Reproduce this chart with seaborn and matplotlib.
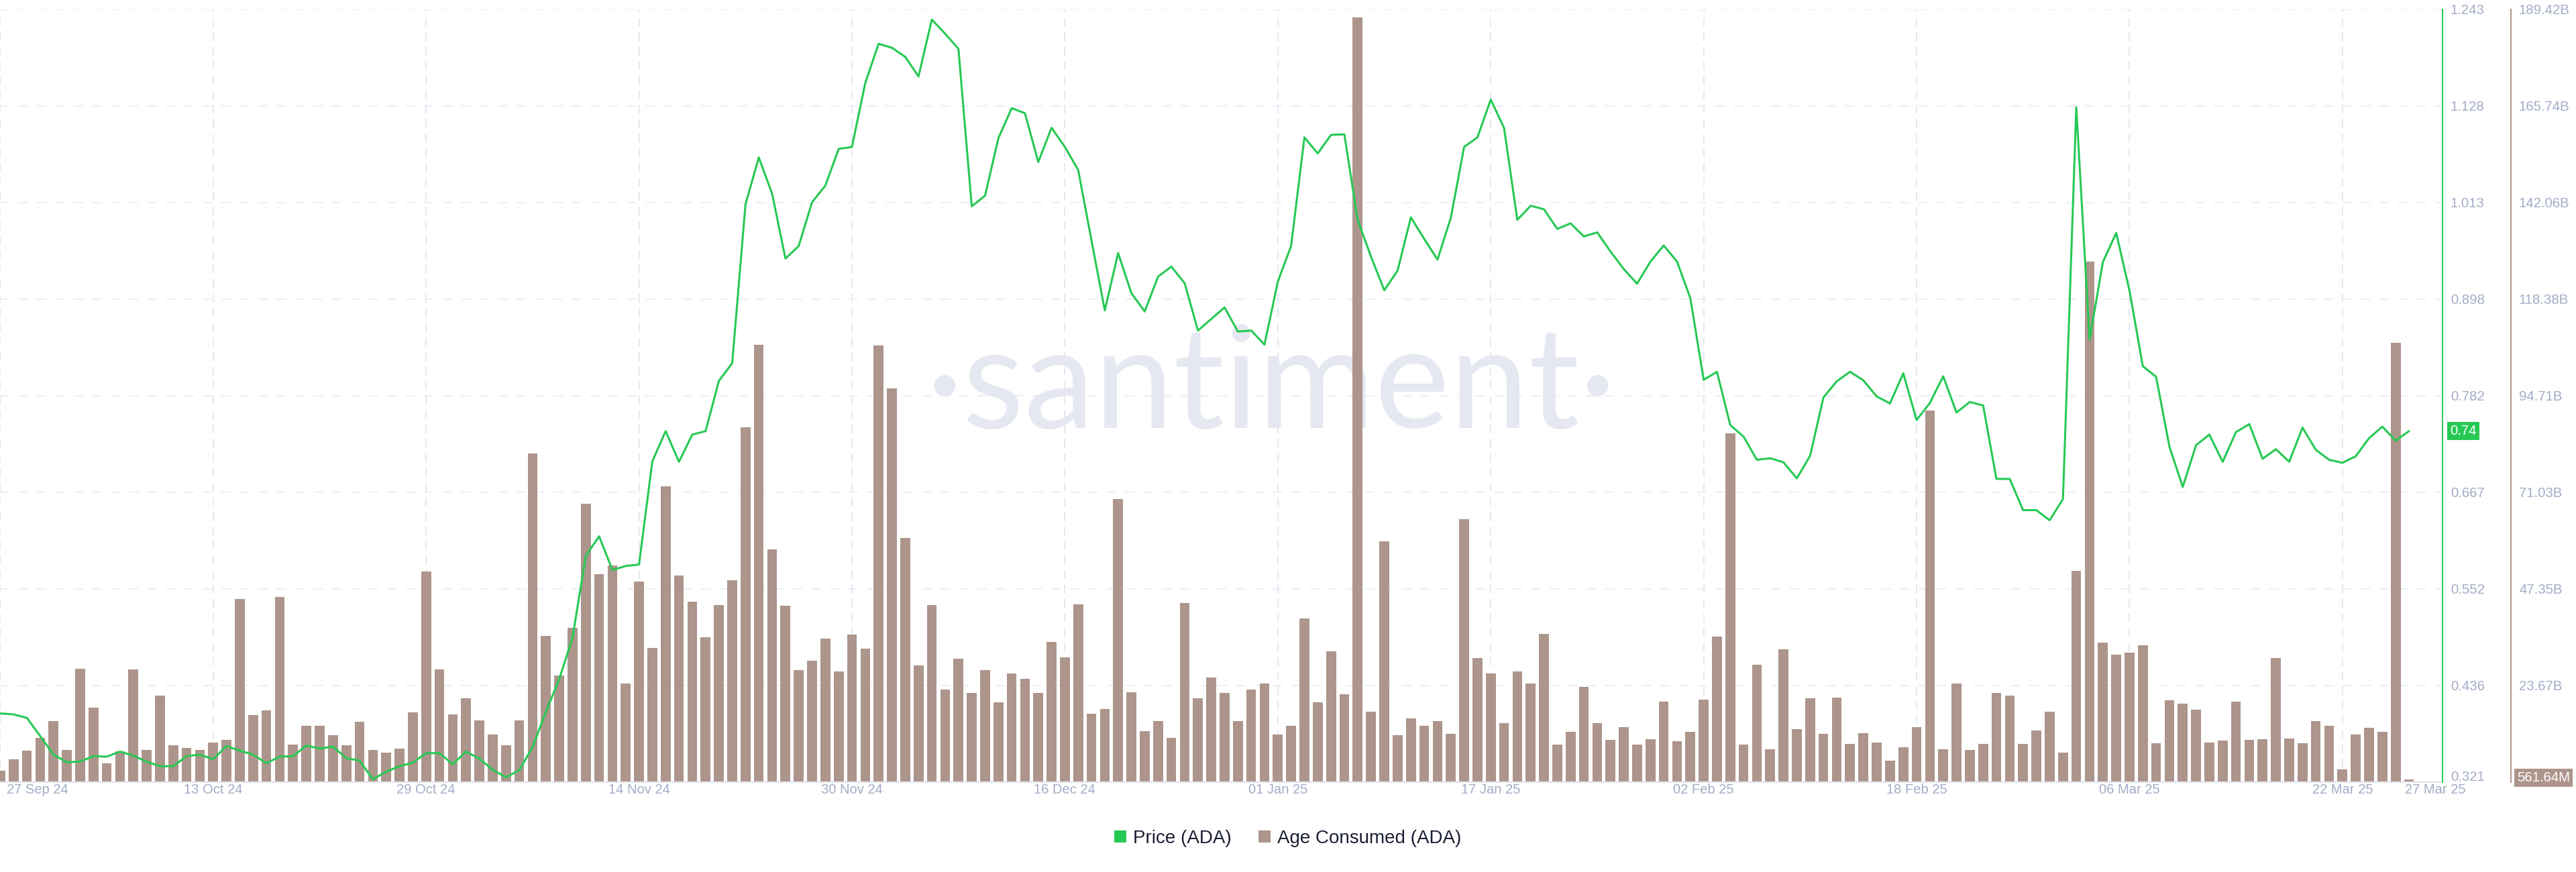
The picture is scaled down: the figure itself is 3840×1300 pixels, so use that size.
import numpy as np
import pandas as pd
import matplotlib
matplotlib.use("Agg")
import matplotlib.pyplot as plt
import matplotlib.transforms as mtransforms
from matplotlib.patches import Patch
import seaborn as sns

# ---------------- data ----------------
start_date = "2024-09-27"

age_consumed_b = [
    2.71, 5.43, 7.65, 10.85, 14.92, 7.89, 27.75, 18.25, 4.44, 7.52,
    27.62, 7.89, 21.21, 9.00, 8.26, 7.89, 9.62, 10.24, 44.77, 16.40,
    17.51, 45.38, 9.13, 13.81, 13.69, 11.35, 9.00, 14.68, 7.89, 7.15,
    8.14, 17.02, 51.55, 27.62, 16.52, 20.47, 15.05, 11.59, 9.00, 15.05,
    80.41, 35.76, 26.02, 37.74, 68.20, 50.81, 53.03, 24.05, 49.08, 32.80,
    72.51, 50.56, 44.15, 35.39, 43.29, 49.45, 86.82, 107.17, 56.97, 43.16,
    27.38, 29.72, 35.15, 27.01, 36.01, 32.68, 107.04, 96.44, 59.81, 28.61,
    43.29, 22.69, 30.21, 21.83, 27.38, 19.48, 26.51, 25.16, 21.83, 34.28,
    30.46, 43.53, 16.77, 17.88, 69.31, 21.95, 12.46, 14.80, 10.73, 43.90,
    20.47, 25.53, 21.83, 14.92, 22.69, 24.17, 11.59, 13.69, 40.08, 19.48,
    31.94, 21.46, 187.32, 17.14, 58.95, 11.47, 15.54, 13.81, 14.80, 11.72,
    64.37, 30.34, 26.51, 14.43, 27.13, 24.17, 36.26, 9.13, 12.21, 23.31,
    14.31, 10.24, 13.32, 9.13, 10.36, 19.73, 9.87, 12.33, 20.10, 35.64,
    85.46, 9.13, 28.73, 8.02, 32.43, 12.83, 20.47, 11.72, 20.59, 9.25,
    11.84, 9.62, 5.18, 8.39, 13.44, 91.01, 8.02, 24.05, 7.89, 9.37,
    21.83, 21.21, 9.25, 12.58, 17.26, 7.15, 51.67, 127.51, 34.04, 31.08,
    31.69, 33.42, 9.50, 19.98, 19.11, 17.64, 9.62, 10.11, 19.61, 10.24,
    10.36, 30.34, 10.61, 9.50, 14.80, 13.69, 2.96, 11.59, 13.20, 12.33,
    107.54, 0.56164,
]

price_ada = [
    0.4026, 0.4014, 0.3972, 0.3756, 0.3534, 0.3444, 0.3450, 0.3516, 0.3510, 0.3570,
    0.3522, 0.3450, 0.3396, 0.3396, 0.3516, 0.3534, 0.3480, 0.3636, 0.3582, 0.3534,
    0.3432, 0.3510, 0.3516, 0.3642, 0.3606, 0.3630, 0.3492, 0.3462, 0.3240, 0.3330,
    0.3396, 0.3438, 0.3552, 0.3552, 0.3420, 0.3570, 0.3486, 0.3354, 0.3264, 0.3348,
    0.3624, 0.4044, 0.4435, 0.4927, 0.5905, 0.6139, 0.5737, 0.5785, 0.5803, 0.7034,
    0.7394, 0.7028, 0.7352, 0.7394, 0.7994, 0.8204, 1.0101, 1.0659, 1.0227, 0.9453,
    0.9603, 1.0125, 1.0323, 1.0761, 1.0785, 1.1548, 1.2016, 1.1968, 1.1860, 1.1626,
    1.2304, 1.2136, 1.1956, 1.0077, 1.0203, 1.0887, 1.1247, 1.1187, 1.0605, 1.1013,
    1.0785, 1.0509, 0.9669, 0.8834, 0.9519, 0.9039, 0.8822, 0.9237, 0.9357, 0.9159,
    0.8594, 0.8732, 0.8870, 0.8582, 0.8594, 0.8426, 0.9177, 0.9603, 1.0899, 1.0707,
    1.0929, 1.0935, 0.9915, 0.9477, 0.9075, 0.9309, 0.9945, 0.9687, 0.9441, 0.9939,
    1.0785, 1.0899, 1.1349, 1.1013, 0.9915, 1.0083, 1.0041, 0.9807, 0.9873, 0.9717,
    0.9765, 0.9537, 0.9327, 0.9153, 0.9417, 0.9609, 0.9417, 0.8979, 0.8006, 0.8102,
    0.7466, 0.7328, 0.7052, 0.7070, 0.7022, 0.6830, 0.7100, 0.7796, 0.7988, 0.8102,
    0.8000, 0.7808, 0.7724, 0.8084, 0.7526, 0.7730, 0.8048, 0.7616, 0.7742, 0.7700,
    0.6824, 0.6824, 0.6451, 0.6451, 0.6331, 0.6583, 1.1259, 0.8486, 0.9411, 0.9759,
    0.9069, 0.8168, 0.8042, 0.7208, 0.6728, 0.7226, 0.7352, 0.7028, 0.7382, 0.7478,
    0.7064, 0.7178, 0.7028, 0.7436, 0.7172, 0.7052, 0.7016, 0.7094, 0.7310, 0.7448,
    0.7280, 0.7394,
]

x_tick_days = [0, 16, 32, 48, 64, 80, 96, 112, 128, 144, 160, 176, 181]
x_tick_labels = ["27 Sep 24", "13 Oct 24", "29 Oct 24", "14 Nov 24", "30 Nov 24",
                 "16 Dec 24", "01 Jan 25", "17 Jan 25", "02 Feb 25", "18 Feb 25",
                 "06 Mar 25", "22 Mar 25", "27 Mar 25"]
price_min, price_max = 0.321, 1.243
price_tick_labels = ["0.321", "0.436", "0.552", "0.667", "0.782", "0.898",
                     "1.013", "1.128", "1.243"]
volume_max_b = 189.42
volume_tick_labels = ["23.67B", "47.35B", "71.03B", "94.71B", "118.38B",
                      "142.06B", "165.74B", "189.42B"]
last_price_label = "0.74"
last_volume_label = "561.64M"
legend_labels = ["Price (ADA)", "Age Consumed (ADA)"]

# ---------------- style ----------------
GREEN = "#26c953"
BROWN = "#ad958c"
TICK = "#a3acc6"
GRID = "#e8e9f3"
VGRID = "#e3e5f0"
AXLINE = "#e2e4ee"
WATER = "#e6e8f1"

sns.set_style("white")
plt.rcParams["font.family"] = ["Liberation Sans", "DejaVu Sans"]

W, H = 3840, 1300
DPI = 100
PX = 72.0 / DPI  # points per pixel

fig = plt.figure(figsize=(W / DPI, H / DPI), dpi=DPI)
fig.patch.set_facecolor("white")
ax_left, ax_right = 0.0, 3641 / W
ax_top, ax_bot = 13.5, 1165.5
ax = fig.add_axes([ax_left, 1 - ax_bot / H, ax_right - ax_left, (ax_bot - ax_top) / H])

n = len(price_ada)
df = pd.DataFrame({
    "day": np.arange(n),
    "date": pd.date_range(start_date, periods=n, freq="D"),
    "age": age_consumed_b,
    "price": price_ada,
})

sns.barplot(data=df, x="day", y="age", ax=ax, native_scale=True, width=0.74,
            color=BROWN, saturation=1, linewidth=0, errorbar=None, zorder=2)

ax2 = ax.twinx()
sns.lineplot(data=df, x="day", y="price", ax=ax2, color=GREEN, linewidth=2.2,
             zorder=3)

ax.set_xlim(-0.02, 183.52)
ax.set_ylim(0, volume_max_b)
ax2.set_ylim(price_min, price_max)
ax.set_xlabel("")
ax.set_ylabel("")
ax2.set_ylabel("")
ax2.set_xlabel("")

# volume axis (outer right)
ax.yaxis.tick_right()
vol_ticks = np.linspace(0, volume_max_b, 9)[1:]
ax.set_yticks(vol_ticks, labels=volume_tick_labels)
for s in ["left", "top"]:
    ax.spines[s].set_visible(False)
ax.spines["right"].set_position(("outward", 102 * PX))
ax.spines["right"].set_color(BROWN)
ax.spines["right"].set_linewidth(1.4)
ax.spines["bottom"].set_color(AXLINE)
ax.spines["bottom"].set_linewidth(1.5)
ax.tick_params(axis="y", which="both", length=0, pad=12 * PX, labelsize=14.7,
               labelcolor=TICK, right=True, left=False, labelright=True, labelleft=False)

# price axis (inner right)
price_ticks = np.linspace(price_min, price_max, 9)
ax2.set_yticks(price_ticks, labels=price_tick_labels)
for s in ["left", "top", "bottom"]:
    ax2.spines[s].set_visible(False)
ax2.spines["right"].set_color(GREEN)
ax2.spines["right"].set_linewidth(1.4)
ax2.tick_params(axis="y", length=0, pad=12 * PX, labelsize=14.7, labelcolor=TICK)
plabels = ax2.get_yticklabels()
plabels[0].set_transform(plabels[0].get_transform() +
                         mtransforms.ScaledTranslation(0, 9 / DPI, fig.dpi_scale_trans))

# x axis
ax.set_xticks(x_tick_days, labels=x_tick_labels)
ax.tick_params(axis="x", length=0, pad=2, labelsize=14.5, labelcolor=TICK)
xlabels = ax.get_xticklabels()
xlabels[0].set_ha("left")
xlabels[0].set_transform(xlabels[0].get_transform() +
                         mtransforms.ScaledTranslation(10 / DPI, 0, fig.dpi_scale_trans))
xlabels[-1].set_ha("left")
xlabels[-1].set_transform(xlabels[-1].get_transform() +
                          mtransforms.ScaledTranslation(-6 / DPI, 0, fig.dpi_scale_trans))

# grids
ax.set_axisbelow(True)
ax.grid(axis="y", color=GRID, linewidth=1.1, linestyle=(0, (9, 9)))
ax.grid(axis="x", color=VGRID, linewidth=1.3, linestyle=(0, (7, 5)))
xgl = ax.get_xgridlines()
xgl[-1].set_visible(False)

# watermark
wm = ax.text(1895 / W, 1 - 638 / H, "\u00b7santiment\u00b7", transform=fig.transFigure,
             ha="center", va="baseline", color=WATER, fontsize=150,
             family=["Lato", "DejaVu Sans"], zorder=1)
fig.canvas.draw()
wext = wm.get_window_extent().width
wm.set_fontsize(150 * 1030 / wext)

# last value markers
ax2.annotate(last_price_label, xy=(1, price_ada[-1]), xycoords=("axes fraction", "data"),
             xytext=(11 * PX, 0), textcoords="offset points", ha="left", va="center",
             color="white", fontsize=14.7, zorder=10, annotation_clip=False,
             bbox=dict(boxstyle="square,pad=0.2", fc=GREEN, ec="none"))
ax.annotate(last_volume_label, xy=(1, age_consumed_b[-1]), xycoords=("axes fraction", "data"),
            xytext=(111 * PX, 3 * PX), textcoords="offset points", ha="left", va="center",
            color="white", fontsize=14.7, zorder=10, annotation_clip=False,
            bbox=dict(boxstyle="square,pad=0.2", fc=BROWN, ec="none"))

# legend
handles = [Patch(facecolor=GREEN, edgecolor="none", label=legend_labels[0]),
           Patch(facecolor=BROWN, edgecolor="none", label=legend_labels[1])]
fig.legend(handles=handles, loc="center", bbox_to_anchor=(0.5, 1 - 1250 / H), ncol=2,
           frameon=False, fontsize=20, handlelength=0.64, handleheight=0.62,
           handletextpad=0.36, columnspacing=1.46, labelcolor="#1b1f33")

fig.savefig("out.png", dpi=DPI, facecolor="white")
